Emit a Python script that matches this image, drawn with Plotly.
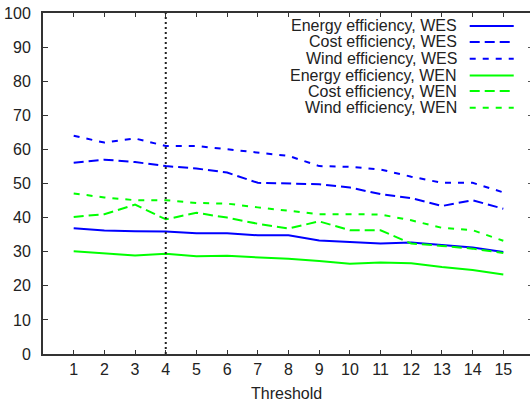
import plotly.graph_objects as go

thresholds = list(range(1, 16))
energy_wes = [36.9, 36.2, 36.0, 35.9, 35.4, 35.4, 34.8, 34.8, 33.3, 32.9, 32.4, 32.7, 31.9, 31.2, 29.9]
cost_wes = [56.1, 57.0, 56.3, 55.1, 54.4, 53.2, 50.2, 50.0, 49.8, 48.8, 46.9, 45.7, 43.4, 45.1, 42.6]
wind_wes = [64.0, 62.0, 63.2, 61.0, 61.0, 60.0, 59.0, 58.1, 55.1, 54.9, 54.1, 52.0, 50.2, 50.2, 47.4]
energy_wen = [30.1, 29.5, 28.9, 29.4, 28.7, 28.8, 28.4, 27.9, 27.3, 26.5, 26.8, 26.6, 25.5, 24.6, 23.3]
cost_wen = [40.2, 41.0, 43.8, 39.5, 41.4, 40.0, 38.2, 36.8, 38.9, 36.3, 36.3, 32.4, 31.7, 30.9, 29.6]
wind_wen = [47.1, 45.9, 45.1, 45.1, 44.3, 44.1, 43.0, 42.0, 41.0, 41.0, 40.9, 39.2, 37.0, 36.3, 33.2]
marker_threshold = 4
y_ticks = list(range(0, 101, 10))
x_title = "Threshold"

series = [
    ("Energy efficiency, WES", energy_wes, "#0000ff", "solid"),
    ("Cost efficiency, WES", cost_wes, "#0000ff", "10px,5px"),
    ("Wind efficiency, WES", wind_wes, "#0000ff", "6px,7px"),
    ("Energy efficiency, WEN", energy_wen, "#00ff00", "solid"),
    ("Cost efficiency, WEN", cost_wen, "#00ff00", "10px,5px"),
    ("Wind efficiency, WEN", wind_wen, "#00ff00", "6px,7px"),
]

FONT = "Liberation Sans, Arial, sans-serif"
fig = go.Figure()
for name, vals, col, dash in series:
    fig.add_trace(go.Scatter(x=thresholds, y=vals, mode="lines", name=name,
                             line=dict(color=col, width=2, dash=dash),
                             showlegend=False, hoverinfo="skip"))

# invisible trace for the right tick stubs axis
fig.add_trace(go.Scatter(x=[thresholds[0]], y=[y_ticks[0]], yaxis="y2", mode="lines",
                         line=dict(width=0), showlegend=False, hoverinfo="skip"))

# vertical dotted marker line
fig.add_shape(type="line", xref="x", yref="paper", x0=marker_threshold, x1=marker_threshold,
              y0=0, y1=1, line=dict(color="#222222", width=2, dash="2px,3px"))

# custom legend: right aligned text, sample line on the right
row_y = [0.962, 0.915, 0.866, 0.817, 0.771, 0.722]
for (name, vals, col, dash), yy in zip(series, row_y):
    fig.add_annotation(text=name, xref="paper", yref="paper", x=0.8536, y=yy,
                       xanchor="right", yanchor="middle", showarrow=False,
                       font=dict(family=FONT, size=16, color="#222222"))
    fig.add_shape(type="line", xref="paper", yref="paper", x0=0.8762, x1=0.9666,
                  y0=yy, y1=yy, line=dict(color=col, width=2, dash=dash))

# x-axis title
fig.add_annotation(text=x_title, xref="paper", yref="paper", x=0.5, y=-0.1154,
                   xanchor="center", yanchor="middle", showarrow=False,
                   font=dict(family=FONT, size=16, color="#222222"))

fig.update_layout(
    width=530, height=401,
    margin=dict(l=43, r=0, t=13, b=47),
    paper_bgcolor="white", plot_bgcolor="white",
    font=dict(family=FONT, size=16, color="#222222"),
    showlegend=False,
    hovermode=False,
    xaxis=dict(range=[0, 15.87], tickvals=thresholds, ticks="inside", ticklen=4,
               tickcolor="#333333", showline=True, linecolor="#333333", linewidth=2,
               mirror="ticks", showgrid=False, zeroline=False, ticklabelstandoff=0),
    yaxis=dict(range=[0, 100], tickvals=y_ticks, ticks="inside", ticklen=5,
               tickcolor="#333333", showline=True, linecolor="#333333", linewidth=2,
               showgrid=False, zeroline=False, ticklabelstandoff=7,
               ticklabeloverflow="allow"),
    yaxis2=dict(range=[0, 100], tickvals=y_ticks, overlaying="y", side="right",
                anchor="x", ticks="inside", ticklen=2, tickcolor="#555555",
                showticklabels=False, showline=False, showgrid=False, zeroline=False),
)

# remove the default 8px body margin so the figure fills the window exactly
fig.write_html("out.html", config={"displayModeBar": False},
               post_script="document.body.style.margin='0';")
